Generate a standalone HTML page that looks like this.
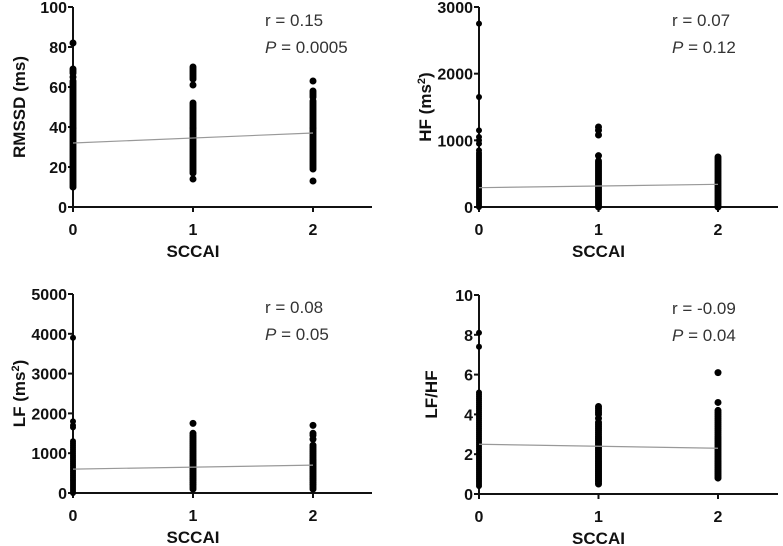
<!DOCTYPE html>
<html><head><meta charset="utf-8"><style>
html,body{margin:0;padding:0;background:#fff;}
svg{display:block;font-family:"Liberation Sans",Arial,sans-serif;}
.tk{font-size:16px;font-weight:bold;fill:#111;}
.ttl{font-size:17px;font-weight:bold;fill:#111;}
.ann{font-size:17px;fill:#333;}
</style></head><body>
<svg id="chart" width="783" height="546" viewBox="0 0 783 546"></svg>
<script>
// ---------- data ----------
const categories = [0, 1, 2];
const rmssdG0 = [10,11,12,13,14,15,16,17,18,19,20,21,22,23,24,25,26,27,28,29,30,31,32,33,34,35,36,37,38,39,40,41,42,43,44,45,46,47,48,49,50,51,52,53,54,55,56,57,58,59,60,61,62,63,65,67,68,69,82];
const rmssdG1 = [14,17,18,19,20,21,22,23,24,25,26,27,28,29,30,31,32,33,34,35,36,37,38,39,40,41,42,43,44,45,46,47,48,49,50,51,52,61,64,65,66,67,68,69,70];
const rmssdG2 = [13,19,20,21,22,23,24,25,26,27,28,29,30,31,32,33,34,35,36,37,38,39,40,41,42,43,44,45,46,47,48,49,50,51,52,53,55,56,57,58,63];
const rmssdTrend = [32, 37];
const hfG0 = [0,30,60,90,120,150,180,210,240,270,300,330,360,390,420,450,480,510,540,570,600,630,660,690,720,750,780,810,850,950,1000,1050,1150,1650,2750];
const hfG1 = [0,30,60,90,120,150,180,210,240,270,300,330,360,390,420,450,480,510,540,570,600,630,660,690,770,1080,1150,1200];
const hfG2 = [0,30,60,90,120,150,180,210,240,270,300,330,360,390,420,450,480,510,540,570,600,630,660,690,720,750];
const hfTrend = [290, 340];
const lfG0 = [0,50,100,150,200,250,300,350,400,450,500,550,600,650,700,750,800,850,900,950,1000,1050,1100,1150,1200,1250,1300,1650,1700,1800,3900];
const lfG1 = [100,150,200,250,300,350,400,450,500,550,600,650,700,750,800,850,900,950,1000,1050,1100,1150,1200,1250,1300,1350,1400,1450,1500,1750];
const lfG2 = [100,150,200,250,300,350,400,450,500,550,600,650,700,750,800,850,900,950,1000,1050,1100,1150,1200,1350,1450,1500,1700];
const lfTrend = [600, 700];
const ratioG0 = [0.4,0.5,0.6,0.7,0.8,0.9,1.0,1.1,1.2,1.3,1.4,1.5,1.6,1.7,1.8,1.9,2.0,2.1,2.2,2.3,2.4,2.5,2.6,2.7,2.8,2.9,3.0,3.1,3.2,3.3,3.4,3.5,3.6,3.7,3.8,3.9,4.0,4.1,4.2,4.3,4.4,4.5,4.6,4.7,4.8,4.9,5.0,5.1,7.4,8.1];
const ratioG1 = [0.5,0.6,0.7,0.8,0.9,1.0,1.1,1.2,1.3,1.4,1.5,1.6,1.7,1.8,1.9,2.0,2.1,2.2,2.3,2.4,2.5,2.6,2.7,2.8,2.9,3.0,3.1,3.2,3.3,3.4,3.5,3.6,3.8,4.0,4.1,4.2,4.3,4.4];
const ratioG2 = [0.8,0.9,1.0,1.1,1.2,1.3,1.4,1.5,1.6,1.7,1.8,1.9,2.0,2.1,2.2,2.3,2.4,2.5,2.6,2.7,2.8,2.9,3.0,3.1,3.2,3.3,3.4,3.5,3.6,3.7,3.8,3.9,4.0,4.1,4.2,4.6,6.1];
const ratioTrend = [2.5, 2.3];
const rmssdTicks = [0,20,40,60,80,100];
const hfTicks = [0,1000,2000,3000];
const lfTicks = [0,1000,2000,3000,4000,5000];
const ratioTicks = [0,2,4,6,8,10];

const NS = "http://www.w3.org/2000/svg";
const svg = document.getElementById('chart');
function mk(tag, attrs, parent){const e=document.createElementNS(NS,tag);for(const k in attrs)e.setAttribute(k,attrs[k]);(parent||svg).appendChild(e);return e;}

function panel(o){
  const g = mk('g',{});
  
  
  const x = c => o.x0 + c*o.step;
  const y = v => o.yb - (v/o.ymax)*(o.yb-o.yt);
  const ya = mk('line',{x1:o.x0,y1:o.yt,x2:o.x0,y2:o.yb,stroke:'#111','stroke-width':2},g);
  
  
  const xa = mk('line',{x1:o.x0-5,y1:o.yb,x2:o.xe,y2:o.yb,stroke:'#111','stroke-width':2},g);
  
  
  o.ticks.forEach(t=>{
    mk('line',{x1:o.x0-5,y1:y(t),x2:o.x0,y2:y(t),stroke:'#111','stroke-width':2},g);
    const tl = mk('text',{x:o.x0-6,y:y(t)+6,'text-anchor':'end',class:'tk'},g);
    tl.textContent = t;
    
    
  });
  categories.forEach(c=>{
    mk('line',{x1:x(c),y1:o.yb,x2:x(c),y2:o.yb+5,stroke:'#111','stroke-width':2},g);
    const tl = mk('text',{x:x(c),y:o.yb+28,'text-anchor':'middle',class:'tk'},g);
    tl.textContent = c;
    
    
  });
  o.groups.forEach((arr,ci)=>{
    arr.forEach(v=>{
      const p = mk('circle',{cx:x(categories[ci]),cy:y(v),r:o.r[ci],fill:'#000'},g);
      
      
    });
  });
  const tr = mk('line',{x1:x(0),y1:y(o.trend[0]),x2:x(2),y2:y(o.trend[1]),stroke:'#999','stroke-width':1.2},g);
  
  
  const xt = mk('text',{x:x(1),y:o.yb+50,'text-anchor':'middle',class:'ttl'},g);
  xt.textContent = 'SCCAI';
  
  
  const cy = (o.yt+o.yb)/2;
  const yt = mk('text',{x:o.ytx,y:cy,'text-anchor':'middle',class:'ttl',transform:`rotate(-90 ${o.ytx} ${cy})`},g);
  yt.innerHTML = o.ylabel;
  
  
  const a1 = mk('text',{x:o.ax,y:o.yt+19,class:'ann'},g);
  a1.textContent = o.rtxt;
  
  
  const a2 = mk('text',{x:o.ax,y:o.yt+46,class:'ann'},g);
  a2.innerHTML = '<tspan font-style="italic">P</tspan> = '+o.ptxt;
  
  
}

panel({name:'rmssd-panel',x0:73,step:120,xe:372,yt:7,yb:207,ymax:100,ticks:rmssdTicks,groups:[rmssdG0,rmssdG1,rmssdG2],r:[3.5,3.5,3.5],trend:rmssdTrend,ylabel:'RMSSD (ms)',ytx:25,ax:265,rtxt:'r = 0.15',ptxt:'0.0005'});
panel({name:'hf-panel',x0:479,step:119.5,xe:778,yt:7,yb:207,ymax:3000,ticks:hfTicks,groups:[hfG0,hfG1,hfG2],r:[3,3.5,3.5],trend:hfTrend,ylabel:'HF (ms<tspan baseline-shift="super" font-size="11">2</tspan>)',ytx:431,ax:672,rtxt:'r = 0.07',ptxt:'0.12'});
panel({name:'lf-panel',x0:73,step:120,xe:372,yt:294,yb:493,ymax:5000,ticks:lfTicks,groups:[lfG0,lfG1,lfG2],r:[3,3.5,3.5],trend:lfTrend,ylabel:'LF (ms<tspan baseline-shift="super" font-size="11">2</tspan>)',ytx:25,ax:265,rtxt:'r = 0.08',ptxt:'0.05'});
panel({name:'lfhf-panel',x0:479,step:119.5,xe:778,yt:295,yb:494,ymax:10,ticks:ratioTicks,groups:[ratioG0,ratioG1,ratioG2],r:[3,3.5,3.5],trend:ratioTrend,ylabel:'LF/HF',ytx:437,ax:672,rtxt:'r = -0.09',ptxt:'0.04'});
</script>
</body></html>
